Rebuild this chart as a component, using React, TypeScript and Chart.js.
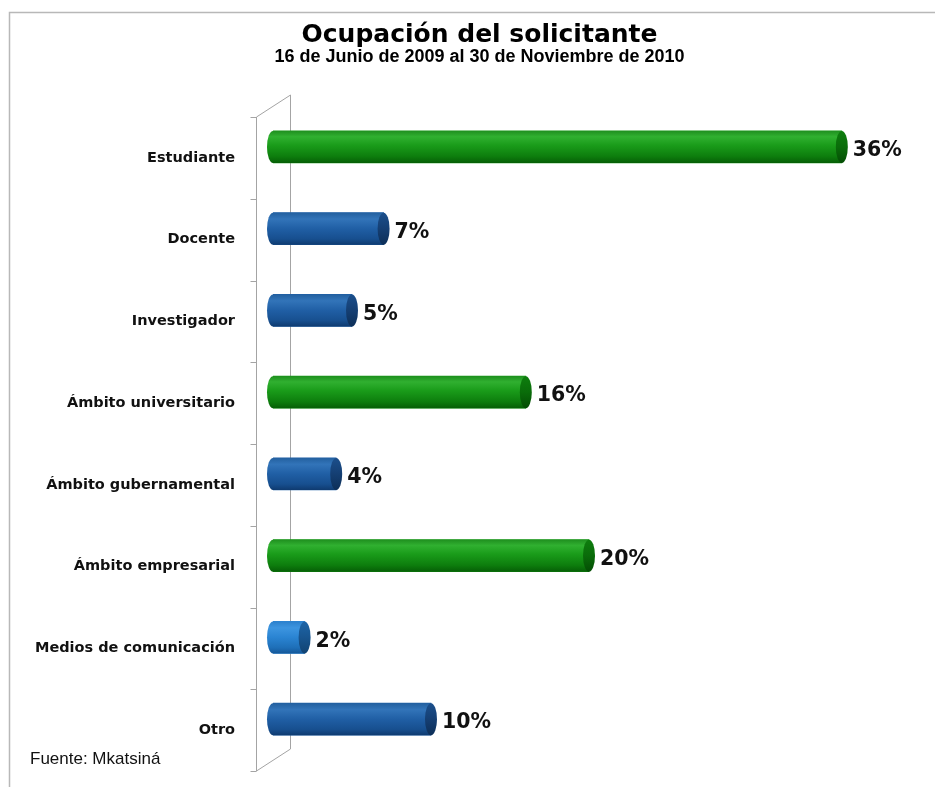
import React, { useEffect, useRef } from "react";
import { Chart, registerables } from "chart.js";

Chart.register(...registerables);

// ---- data ----
const categories = [
  "Estudiante",
  "Docente",
  "Investigador",
  "Ámbito universitario",
  "Ámbito gubernamental",
  "Ámbito empresarial",
  "Medios de comunicación",
  "Otro",
];
const values = [36, 7, 5, 16, 4, 20, 2, 10];
const barKinds = ["green", "blue", "blue", "green", "blue", "green", "light", "blue"];
const titleText = "Ocupación del solicitante";
const subtitleText = "16 de Junio de 2009 al 30 de Noviembre de 2010";
const sourceText = "Fuente: Mkatsiná";
const xMax = 40;

// ---- styles ----
const palette: Record<string, { flat: string; body: [number, string][]; cap: [number, string][] }> = {
  green: {
    flat: "#169816",
    body: [
      [0, "#1f8f1f"],
      [0.18, "#30b030"],
      [0.45, "#1a9c1a"],
      [0.8, "#0d7d0d"],
      [1, "#065f06"],
    ],
    cap: [
      [0, "#0e7e0e"],
      [0.5, "#0a6c0a"],
      [1, "#044d04"],
    ],
  },
  blue: {
    flat: "#1f5fa6",
    body: [
      [0, "#23609f"],
      [0.2, "#3274b9"],
      [0.5, "#205fa5"],
      [0.82, "#174f8f"],
      [1, "#0f3b70"],
    ],
    cap: [
      [0, "#1b4f8c"],
      [0.5, "#153f73"],
      [1, "#0d2f58"],
    ],
  },
  light: {
    flat: "#2b86d6",
    body: [
      [0, "#2c80cc"],
      [0.2, "#3d95e0"],
      [0.5, "#2a84d2"],
      [0.82, "#1e6fb8"],
      [1, "#155899"],
    ],
    cap: [
      [0, "#1d65a8"],
      [0.5, "#18558f"],
      [1, "#114372"],
    ],
  },
};

const DEPTH_X = 17;
const DEPTH_Y = 11;

function grad(ctx: CanvasRenderingContext2D, y0: number, y1: number, stops: [number, string][]) {
  const g = ctx.createLinearGradient(0, y0, 0, y1);
  stops.forEach(([o, c]) => g.addColorStop(o, c));
  return g;
}

const decorPlugin = {
  id: "decor",
  afterLayout(chart: any) {
    // let the long category labels extend to the left without clipping
    chart.scales.y.left = 0;
  },
  beforeDraw(chart: any) {
    const { ctx, chartArea: ca, width, height } = chart;
    ctx.save();
    ctx.fillStyle = "#ffffff";
    ctx.fillRect(0, 0, width, height);
    // outer frame (top + left)
    ctx.strokeStyle = "#b8b8b8";
    ctx.lineWidth = 1.5;
    ctx.beginPath();
    ctx.moveTo(9.5, height);
    ctx.lineTo(9.5, 12.5);
    ctx.lineTo(width, 12.5);
    ctx.stroke();
    // 3D wall
    const yScale = chart.scales.y;
    const n = categories.length;
    const step = yScale.getPixelForValue(1) - yScale.getPixelForValue(0);
    const top = yScale.getPixelForValue(0) - step / 2;
    const bottom = yScale.getPixelForValue(n - 1) + step / 2;
    const fx = Math.round(ca.left - DEPTH_X) + 0.5;
    const bx = Math.round(ca.left + DEPTH_X) + 0.5;
    ctx.strokeStyle = "#a4a4a4";
    ctx.lineWidth = 1;
    ctx.beginPath();
    ctx.moveTo(fx, top + DEPTH_Y);
    ctx.lineTo(fx, bottom + DEPTH_Y);
    ctx.moveTo(bx, top - DEPTH_Y);
    ctx.lineTo(bx, bottom - DEPTH_Y);
    ctx.moveTo(fx, top + DEPTH_Y);
    ctx.lineTo(bx, top - DEPTH_Y);
    ctx.moveTo(fx, bottom + DEPTH_Y);
    ctx.lineTo(bx, bottom - DEPTH_Y);
    for (let k = 0; k <= n; k++) {
      const yy = Math.round(top + step * k + DEPTH_Y) + 0.5;
      ctx.moveTo(fx - 6, yy);
      ctx.lineTo(fx, yy);
    }
    ctx.stroke();
    ctx.restore();
  },
  afterDatasetsDraw(chart: any) {
    const { ctx } = chart;
    const meta = chart.getDatasetMeta(0);
    ctx.save();
    meta.data.forEach((el: any, i: number) => {
      const { x, y, base, height } = el.getProps(["x", "y", "base", "height"], true);
      const h = height;
      const y0 = y - h / 2;
      const y1 = y + h / 2;
      const rx = 6;
      const p = palette[barKinds[i]];
      // body with left rounded end
      ctx.fillStyle = grad(ctx, y0, y1, p.body);
      ctx.beginPath();
      ctx.moveTo(base, y0);
      ctx.lineTo(x, y0);
      ctx.lineTo(x, y1);
      ctx.lineTo(base, y1);
      ctx.ellipse(base, y, rx, h / 2, 0, Math.PI / 2, (3 * Math.PI) / 2);
      ctx.closePath();
      ctx.fill();
      // right cap
      ctx.fillStyle = grad(ctx, y0, y1, p.cap);
      ctx.beginPath();
      ctx.ellipse(x, y, rx, h / 2, 0, 0, Math.PI * 2);
      ctx.fill();
      // value label
      ctx.fillStyle = "#111111";
      ctx.font = "bold 20.5px 'DejaVu Sans', sans-serif";
      ctx.textAlign = "left";
      ctx.textBaseline = "middle";
      ctx.fillText(values[i] + "%", x + rx + 5, y + 4);
    });
    ctx.restore();
  },
  afterDraw(chart: any) {
    const { ctx } = chart;
    ctx.save();
    ctx.fillStyle = "#111111";
    ctx.font = "17px 'Liberation Sans', Arial, sans-serif";
    ctx.textAlign = "left";
    ctx.textBaseline = "alphabetic";
    ctx.fillText(sourceText, 30, 764);
    ctx.restore();
  },
};

export default function App() {
  const ref = useRef<HTMLCanvasElement | null>(null);

  useEffect(() => {
    if (!ref.current) return;
    const chart = new Chart(ref.current, {
      type: "bar",
      data: {
        labels: categories,
        datasets: [
          {
            data: values,
            backgroundColor: barKinds.map((k) => palette[k].flat),
            borderWidth: 0,
            barThickness: 32,
          },
        ],
      },
      options: {
        indexAxis: "y",
        responsive: false,
        animation: false,
        events: [],
        layout: { padding: { left: 54, right: 30, top: 0, bottom: 27 } },
        plugins: {
          legend: { display: false },
          tooltip: { enabled: false },
          title: {
            display: true,
            text: titleText,
            color: "#000000",
            font: { family: "'DejaVu Sans', sans-serif", size: 25, weight: "bold", lineHeight: 1 },
            padding: { top: 23, bottom: 0 },
          },
          subtitle: {
            display: true,
            text: subtitleText,
            color: "#000000",
            font: { family: "'Liberation Sans', Arial, sans-serif", size: 18, weight: "bold", lineHeight: 1 },
            padding: { top: 0, bottom: 40 },
          },
        },
        scales: {
          x: {
            display: false,
            min: 0,
            max: xMax,
          },
          y: {
            afterFit: (scale: any) => {
              scale.width = 219;
            },
            grid: {
              display: true,
              drawOnChartArea: false,
              drawTicks: true,
              tickLength: 30,
              color: "rgba(0,0,0,0)",
            },
            border: { display: false },
            ticks: {
              autoSkip: false,
              padding: 8,
              labelOffset: DEPTH_Y,
              color: "#111111",
              font: { family: "'DejaVu Sans', sans-serif", size: 14.5, weight: "bold" },
            },
          },
        },
      },
      plugins: [decorPlugin],
    });
    return () => chart.destroy();
  }, []);

  return (
    <div style={{ position: "fixed", left: 0, top: 0, width: 935, height: 787, background: "#fff" }}>
      <canvas ref={ref} width={935} height={787} />
    </div>
  );
}
